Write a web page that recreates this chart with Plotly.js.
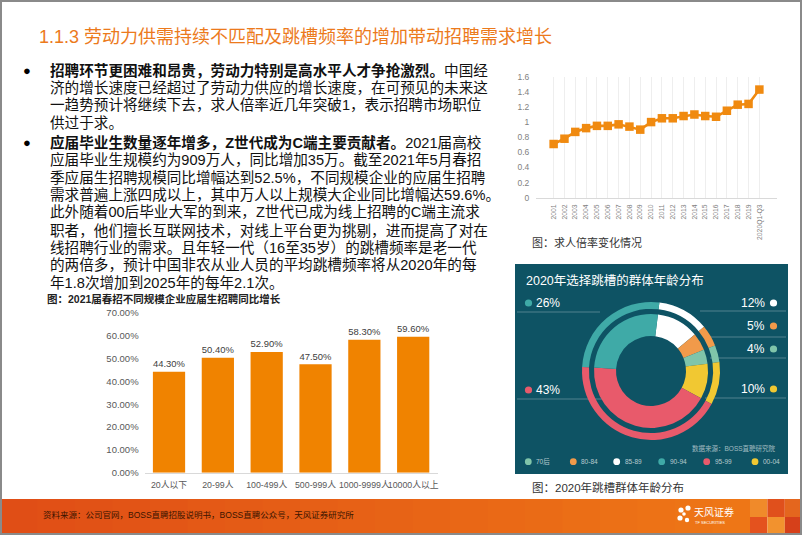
<!DOCTYPE html>
<html>
<head>
<meta charset="utf-8">
<script src="https://cdn.plot.ly/plotly-3.0.1.min.js"></script>
<style>html,body{margin:0;padding:0;background:#fff;}#chart{width:802px;height:535px;}</style>
</head>
<body>
<div id="chart"></div>
<script>
// ---------- data ----------
const barCategories = ['20人以下', '20-99人', '100-499人', '500-999人', '1000-9999人', '10000人以上'];
const barValues = [0.443, 0.504, 0.529, 0.475, 0.583, 0.596];
const barTicks = [0, 0.1, 0.2, 0.3, 0.4, 0.5, 0.6, 0.7];

const years = ['2001','2002','2003','2004','2005','2006','2007','2008','2009','2010','2011','2012','2013','2014','2015','2016','2017','2018','2019','2020Q1-Q3'];
const ratio = [0.71, 0.78, 0.87, 0.92, 0.95, 0.95, 0.97, 0.94, 0.90, 1.00, 1.05, 1.05, 1.08, 1.10, 1.08, 1.07, 1.15, 1.23, 1.24, 1.43];

const ageGroups = ['85-89', '80-84', '70后', '00-04', '95-99', '90-94'];   // clockwise from top
const ageShares = [12, 5, 4, 10, 43, 26];
const legendOrder = ['70后', '80-84', '85-89', '90-94', '95-99', '00-04'];

const titleText = '1.1.3 劳动力供需持续不匹配及跳槽频率的增加带动招聘需求增长';
const bodyLines = [
  '<b>招聘环节更困难和昂贵，劳动力特别是高水平人才争抢激烈。</b>中国经',
  '济的增长速度已经超过了劳动力供应的增长速度，在可预见的未来这',
  '一趋势预计将继续下去，求人倍率近几年突破1，表示招聘市场职位',
  '供过于求。',
  '<b>应届毕业生数量逐年增多，Z世代成为C端主要贡献者。</b>2021届高校',
  '应届毕业生规模约为909万人，同比增加35万。截至2021年5月春招',
  '季应届生招聘规模同比增幅达到52.5%，不同规模企业的应届生招聘',
  '需求普遍上涨四成以上，其中万人以上规模大企业同比增幅达59.6%。',
  '此外随着00后毕业大军的到来，Z世代已成为线上招聘的C端主流求',
  '职者，他们擅长互联网技术，对线上平台更为挑剔，进而提高了对在',
  '线招聘行业的需求。且年轻一代（16至35岁）的跳槽频率是老一代',
  '的两倍多，预计中国非农从业人员的平均跳槽频率将从2020年的每',
  '年1.8次增加到2025年的每年2.1次。'
];

// ---------- layout helpers ----------
const W = 802, H = 535;
const px = x => x / W;
const py = y => 1 - y / H;
const FONT = 'Liberation Sans, Arial, Noto Sans CJK SC, sans-serif';

const colorOf = {
  '70后': '#80C5AA', '80-84': '#F19A4A', '85-89': '#FFFFFF',
  '90-94': '#3FAAA7', '95-99': '#E85A6B', '00-04': '#F1C832'
};
const ORANGE = '#F08300';

const annotations = [];
const shapes = [];
function txt(x, y, text, opt) {
  opt = opt || {};
  annotations.push(Object.assign({
    xref: 'paper', yref: 'paper', x: px(x), y: py(y), text: text, showarrow: false,
    xanchor: opt.xanchor || 'left', yanchor: 'middle',
    font: { family: FONT, size: opt.size || 12, color: opt.color || '#000' }
  }, opt.extra || {}));
}
function rect(x0, y0, x1, y1, fill, line, layer) {
  shapes.push({ type: 'rect', xref: 'paper', yref: 'paper', x0: px(x0), x1: px(x1), y0: py(y1), y1: py(y0),
    fillcolor: fill, line: line || { width: 0 }, layer: layer || 'below' });
}
function dot(cx, cy, r, fill) {
  shapes.push({ type: 'circle', xref: 'paper', yref: 'paper', x0: px(cx - r), x1: px(cx + r), y0: py(cy + r), y1: py(cy - r),
    fillcolor: fill, line: { width: 0 }, layer: 'above' });
}
function hline(x0, x1, y, color) {
  shapes.push({ type: 'line', xref: 'paper', yref: 'paper', x0: px(x0), x1: px(x1), y0: py(y), y1: py(y),
    line: { color: color, width: 0.8 }, layer: 'below' });
}

// ---------- title & body ----------
txt(37, 37, titleText, { size: 18, color: '#EC7A1C' });
const lineY = [70, 87.6, 105.2, 122.8, 142, 159.6, 177.2, 194.8, 212.4, 230, 247.6, 265.2, 282.8];
bodyLines.forEach((l, i) => txt(48, lineY[i], l, { size: 14.6, color: '#111' }));
txt(21, 70, '●', { size: 13, color: '#000' });
txt(21, 142, '●', { size: 13, color: '#000' });

// captions
txt(45, 299, '<b>图：2021届春招不同规模企业应届生招聘同比增长</b>', { size: 10.5, color: '#222' });
txt(530, 242, '图：求人倍率变化情况', { size: 11, color: '#333' });
txt(530, 487, '图：2020年跳槽群体年龄分布', { size: 11.5, color: '#333' });

// ---------- donut panel ----------
rect(515, 264, 788, 474, '#0E5364');
txt(524, 280, '2020年选择跳槽的群体年龄分布', { size: 12.5, color: '#FFFFFF' });
const lineCol = 'rgba(255,255,255,0.35)';
hline(517, 600, 312, lineCol);
hline(517, 610, 399, lineCol);
hline(700, 786, 311, lineCol);
hline(705, 786, 337, lineCol);
hline(710, 786, 358, lineCol);
hline(705, 786, 398, lineCol);

const share = g => ageShares[ageGroups.indexOf(g)] + '%';
// left labels
dot(528.5, 303, 3.6, colorOf['90-94']); txt(534, 303, share('90-94'), { size: 12, color: '#FFFFFF' });
dot(528.5, 390, 3.6, colorOf['95-99']); txt(534, 390, share('95-99'), { size: 12, color: '#FFFFFF' });
// right labels
[['85-89', 303], ['80-84', 326], ['70后', 349], ['00-04', 389]].forEach(p => {
  dot(773.5, p[1], 3.6, colorOf[p[0]]);
  txt(767, p[1], share(p[0]), { size: 12, color: '#FFFFFF', xanchor: 'right' });
});
txt(778, 448, '数据来源：BOSS直聘研究院', { size: 6.5, color: 'rgba(255,255,255,0.6)', xanchor: 'right' });
const legX = [528.3, 573.3, 616.7, 661.7, 706.7, 755];
legendOrder.forEach((g, i) => {
  dot(legX[i], 461.7, 3.4, colorOf[g]);
  txt(legX[i] + 6, 461.7, g, { size: 6.5, color: 'rgba(255,255,255,0.7)' });
});

// ---------- footer ----------
const nStrip = 20;
for (let i = 0; i < nStrip; i++) {
  const t = i / (nStrip - 1);
  const r = Math.round(224 + (238 - 224) * t), g = Math.round(78 + (118 - 78) * t), b = 22;
  rect(i * 750 / nStrip, 499, (i + 1) * 750 / nStrip + 0.5, 535, `rgb(${r},${g},${b})`);
}
const sq = [['#F08A2A', '#E0501C', '#E4661E'], ['#E4521E', '#F2922E', '#D6401A']];
sq.forEach((row, ri) => row.forEach((c, ci) => rect(750 + ci * 17.4, 499 + ri * 18, 750 + (ci + 1) * 17.4, 499 + (ri + 1) * 18, c)));
txt(41, 515, '资料来源：公司官网，BOSS直聘招股说明书，BOSS直聘公众号，天风证券研究所', { size: 8.5, color: '#3A1400' });
// logo
dot(681, 510, 2.6, '#FFFFFF'); dot(688, 508, 2.6, '#FFFFFF'); dot(680, 518, 2.6, '#FFFFFF');
dot(687, 520, 2.2, '#FFFFFF'); dot(684, 514, 1.8, '#FFFFFF');
txt(692, 512, '天风证券', { size: 10, color: '#FFFFFF' });
txt(693, 522, 'TF SECURITIES', { size: 4, color: '#FFFFFF' });

// page border
rect(1, 1, 801, 534, 'rgba(0,0,0,0)', { color: '#8A8A8A', width: 2 }, 'above');

// ---------- traces ----------
const barTrace = {
  type: 'bar', x: barCategories, y: barValues, xaxis: 'x', yaxis: 'y',
  marker: { color: ORANGE }, width: 0.66,
  texttemplate: '%{y:.2%}', textposition: 'outside', cliponaxis: false,
  textfont: { family: FONT, size: 11, color: '#404040' }, hoverinfo: 'skip', showlegend: false
};
const lineTrace = {
  type: 'scatter', mode: 'lines+markers', x: years, y: ratio, xaxis: 'x2', yaxis: 'y2',
  line: { color: '#F08A10', width: 2.6 }, marker: { symbol: 'square', size: 8.5, color: '#F08A10' },
  hoverinfo: 'skip', showlegend: false, cliponaxis: false
};
const donutInner = {
  type: 'pie', labels: ageGroups, values: ageShares, sort: false, direction: 'clockwise', rotation: 7,
  hole: 0.614, marker: { colors: ageGroups.map(g => colorOf[g]), line: { width: 0 } },
  textinfo: 'none', hoverinfo: 'skip', showlegend: false,
  domain: { x: [px(594), px(708)], y: [py(428), py(314)] }
};
const donutOuter = Object.assign({}, donutInner, {
  hole: 0.9, domain: { x: [px(582), px(720)], y: [py(440), py(302)] }
});

const layout = {
  width: W, height: H, margin: { l: 0, r: 0, t: 0, b: 0 },
  paper_bgcolor: '#FFFFFF', plot_bgcolor: 'rgba(0,0,0,0)',
  font: { family: FONT },
  xaxis: {
    type: 'category', domain: [px(144.6), px(437.6)], anchor: 'y', showline: true, linecolor: '#D9D9D9', linewidth: 1,
    ticks: '', tickangle: 0, tickfont: { size: 8.8, color: '#595959' }, ticklabelstandoff: 4, fixedrange: true
  },
  yaxis: {
    domain: [py(472.7), py(313)], anchor: 'x', range: [0, 0.7], tickvals: barTicks, tickformat: '.2%',
    showgrid: false, zeroline: false, showline: false, ticks: '',
    tickfont: { size: 9.5, color: '#595959' }, ticklabelstandoff: 5, fixedrange: true
  },
  xaxis2: {
    type: 'category', domain: [px(536.3), px(776.7)], anchor: 'y2', showline: true, linecolor: '#D9D9D9', linewidth: 1,
    ticks: '', tickangle: -90, tickfont: { size: 6.8, color: '#7F7F7F' }, ticklabelstandoff: 3, fixedrange: true
  },
  yaxis2: {
    domain: [py(197.7), py(76.7)], anchor: 'x2', range: [0, 1.6], dtick: 0.2,
    showgrid: false, zeroline: false, showline: false, ticks: '',
    tickfont: { size: 8.5, color: '#7F7F7F' }, ticklabelstandoff: 6, fixedrange: true
  },
  bargap: 0.34,
  annotations: annotations,
  shapes: shapes
};

Plotly.newPlot('chart', [barTrace, lineTrace, donutOuter, donutInner], layout, { displayModeBar: false, staticPlot: true });
</script>
</body>
</html>
